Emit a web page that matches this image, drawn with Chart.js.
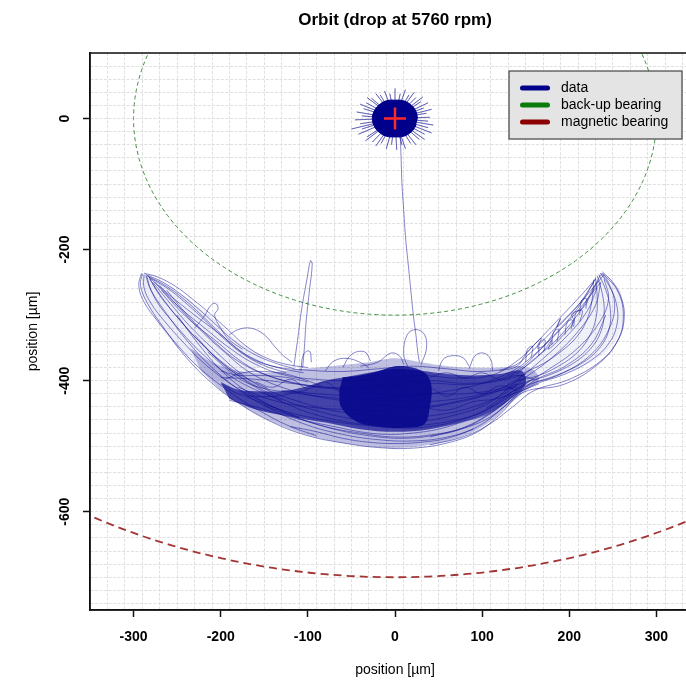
<!DOCTYPE html>
<html>
<head>
<meta charset="utf-8">
<title>Orbit (drop at 5760 rpm)</title>
<script src="https://cdn.jsdelivr.net/npm/chart.js@4.4.1/dist/chart.umd.min.js"></script>
<style>
  html, body { margin: 0; padding: 0; background: #fff; overflow: hidden; }
  #wrap { width: 686px; height: 681px; overflow: hidden; }
</style>
</head>
<body>
<div id="wrap"><canvas id="orbit" width="790" height="681"></canvas></div>
<script>
// axis ticks with labels (µm)
const xTickLabels = [-300, -200, -100, 0, 100, 200, 300];
const yTickLabels = [-600, -400, -200, 0];
const legendNames = ["data", "back-up bearing", "magnetic bearing"];

// bearing clearance circles, centred on the rotor centre
const bearingRadius = [300, 700];
const rotorCentre = [[0, 0]];

// rotor hovering before the drop
const hoverDisc = [[26,0],[24,11],[19,20],[10,27],[0,28],[-10,27],[-19,20],[-24,11],[-26,0],[-24,-11],[-19,-20],[-10,-27],[0,-28],[10,-27],[19,-20],[24,-11]];
const hoverTips = [[40,2],[36,8],[42,14],[33,16],[38,24],[30,26],[32,33],[24,32],[22,40],[16,36],[12,44],[6,38],[0,46],[-6,38],[-12,42],[-17,36],[-22,38],[-27,31],[-32,32],[-33,24],[-40,22],[-36,15],[-44,10],[-38,4],[-46,-2],[-40,-8],[-50,-16],[-38,-16],[-42,-24],[-32,-28],[-34,-34],[-26,-36],[-22,-42],[-16,-38],[-10,-46],[-4,-40],[2,-48],[8,-40],[12,-46],[18,-38],[24,-40],[28,-32],[34,-32],[34,-24],[42,-22],[38,-14],[44,-10],[38,-4]];
const dropPath = [[6,-26],[7,-60],[8,-100],[10,-140],[12,-180],[15,-220],[18,-260],[21,-300],[24,-330],[26,-355],[28,-372]];

// density of the whirl on the back-up bearing
const whirlHull = [[-235,-350],[-210,-372],[-180,-385],[-150,-388],[-120,-384],[-90,-380],[-60,-376],[-30,-372],[0,-366],[30,-372],[60,-378],[90,-380],[120,-380],[145,-378],[160,-385],[165,-400],[150,-415],[130,-438],[110,-462],[80,-484],[40,-498],[0,-503],[-40,-499],[-80,-490],[-120,-474],[-160,-450],[-195,-420],[-222,-386]];
const whirlBand = [[-200,-402],[-180,-414],[-160,-416],[-130,-416],[-105,-410],[-80,-400],[-55,-394],[-30,-388],[0,-382],[30,-385],[60,-390],[90,-392],[120,-390],[145,-385],[150,-405],[135,-425],[110,-448],[80,-462],[40,-474],[0,-478],[-40,-474],[-80,-464],[-120,-455],[-160,-444],[-190,-428]];
const whirlCore = [[-60,-395],[-40,-392],[-20,-386],[0,-378],[20,-380],[36,-390],[42,-410],[40,-440],[34,-466],[10,-472],[-20,-470],[-45,-462],[-62,-440],[-64,-415]];
const leftArm = [[-290,-236],[-260,-255],[-220,-292],[-180,-340],[-150,-370],[-200,-400],[-240,-362],[-270,-316],[-290,-270]];
const rightArm = [[238,-234],[258,-262],[262,-305],[250,-345],[225,-372],[180,-396],[150,-400],[160,-370],[200,-315],[225,-268]];

// whirl orbits: lower sweeps left tip -> right tip
const sweepA1 = [[-290,-237],[-292,-255],[-284,-282],[-265,-320],[-240,-364],[-210,-404],[-180,-434],[-140,-464],[-100,-484],[-60,-495],[-20,-502],[20,-503],[60,-495],[95,-478],[120,-452],[147,-418],[193,-406],[232,-376],[255,-340],[262,-300],[255,-262],[238,-236]];
const sweepA2 = [[-286,-240],[-280,-262],[-262,-298],[-238,-340],[-210,-380],[-178,-415],[-140,-445],[-100,-468],[-60,-482],[-20,-490],[20,-492],[60,-486],[95,-470],[125,-440],[150,-410],[190,-390],[225,-360],[246,-320],[252,-282],[244,-248],[236,-236]];
const sweepA3 = [[-282,-244],[-268,-272],[-248,-306],[-222,-344],[-192,-380],[-160,-410],[-120,-438],[-80,-456],[-40,-466],[0,-472],[40,-470],[80,-458],[110,-440],[140,-412],[175,-384],[210,-350],[235,-310],[245,-275],[240,-245]];
const sweepA4 = [[-278,-250],[-258,-282],[-236,-316],[-210,-350],[-180,-386],[-150,-412],[-110,-432],[-70,-446],[-30,-452],[10,-456],[50,-452],[90,-440],[125,-420],[150,-395],[180,-365],[210,-325],[230,-285],[236,-250]];
const sweepA5 = [[-270,-255],[-248,-288],[-224,-322],[-196,-356],[-166,-388],[-130,-410],[-90,-424],[-50,-432],[-10,-438],[30,-440],[70,-432],[110,-418],[140,-398],[165,-372],[195,-335],[220,-295],[232,-258]];
const sweepA6 = [[-262,-262],[-238,-300],[-208,-340],[-178,-372],[-140,-395],[-100,-408],[-60,-414],[-20,-420],[20,-422],[60,-416],[100,-404],[135,-385],[160,-360],[190,-320],[212,-285],[228,-250]];
const sweepA7 = [[-250,-300],[-225,-345],[-195,-390],[-160,-425],[-120,-452],[-80,-470],[-40,-480],[0,-486],[40,-483],[80,-472],[110,-455],[135,-428],[160,-400],[195,-378],[225,-345],[242,-300]];
const sweepA8 = [[-230,-330],[-200,-372],[-170,-400],[-130,-428],[-90,-446],[-50,-458],[-10,-464],[30,-462],[70,-452],[105,-436],[130,-412],[150,-388]];
// upper returns right tip -> left tip
const returnU1 = [[240,-238],[225,-262],[205,-292],[180,-325],[155,-358],[135,-378],[100,-386],[60,-382],[20,-378],[-20,-382],[-60,-386],[-100,-384],[-140,-378],[-170,-362],[-200,-330],[-230,-300],[-260,-268],[-284,-240]];
const returnU2 = [[230,-245],[210,-275],[185,-310],[160,-345],[140,-370],[110,-392],[70,-396],[30,-392],[-10,-396],[-50,-400],[-90,-398],[-125,-392],[-160,-375],[-190,-350],[-220,-318],[-250,-285],[-276,-250]];
const returnU3 = [[236,-250],[215,-285],[190,-322],[165,-355],[145,-380],[115,-400],[80,-406],[40,-404],[0,-408],[-40,-412],[-80,-410],[-120,-402],[-150,-390],[-175,-372],[-205,-340],[-240,-302],[-268,-262]];
const returnU4 = [[150,-395],[120,-412],[80,-420],[40,-420],[0,-424],[-40,-428],[-80,-425],[-120,-418],[-150,-412],[-175,-400],[-195,-380],[-215,-356]];
// body crossings
const bodyB1 = [[-180,-410],[-140,-430],[-100,-440],[-60,-444],[-20,-446],[20,-444],[60,-436],[100,-424],[140,-405]];
const bodyB2 = [[-170,-425],[-130,-445],[-90,-458],[-50,-466],[-10,-470],[30,-468],[70,-460],[100,-448],[130,-425],[155,-400]];
const bodyB3 = [[-150,-438],[-110,-458],[-70,-474],[-30,-484],[10,-488],[50,-482],[85,-468],[115,-445]];
const bodyB4 = [[-200,-395],[-160,-398],[-120,-404],[-80,-410],[-40,-410],[0,-404],[40,-400],[80,-404],[120,-400],[150,-390]];
const bodyB5 = [[-130,-415],[-90,-420],[-50,-424],[-10,-430],[30,-432],[70,-428],[110,-418],[140,-410]];
const bodyB6 = [[-160,-402],[-140,-410],[-120,-398],[-100,-412],[-80,-402],[-60,-418],[-40,-404],[-20,-420],[0,-410],[20,-426],[40,-412],[60,-424],[80,-410],[100,-420],[120,-408],[140,-415]];
const bodyB7 = [[-190,-430],[-160,-440],[-130,-452],[-100,-462],[-70,-470],[-40,-478],[-10,-482],[20,-480],[50,-474],[80,-462],[105,-452],[128,-432]];
const bodyB8 = [[-120,-470],[-90,-478],[-60,-488],[-30,-494],[0,-496],[30,-494],[60,-488],[90,-474]];
const bodyB9 = [[40,-395],[60,-388],[80,-396],[100,-388],[120,-398],[140,-392],[160,-398]];
const bodyB10 = [[30,-440],[60,-445],[90,-432],[115,-428],[140,-418],[165,-405]];
const eyeE1 = [[-200,-385],[-180,-392],[-160,-392],[-140,-393],[-120,-396],[-100,-402]];
const eyeE2 = [[-200,-405],[-180,-420],[-160,-424],[-140,-424],[-120,-420],[-100,-414]];
const eyeE3 = [[-195,-398],[-175,-388],[-150,-386],[-125,-390],[-105,-398],[-85,-408]];
// right arm
const rightR1 = [[238,-234],[250,-250],[260,-275],[263,-305],[256,-338],[236,-370],[200,-398],[160,-415],[135,-440],[110,-465],[80,-485],[40,-498]];
const rightR2 = [[236,-236],[246,-256],[254,-282],[255,-312],[246,-342],[226,-368],[195,-390],[160,-406],[135,-425],[110,-450],[80,-472],[40,-486]];
const rightR3 = [[234,-238],[242,-262],[247,-290],[246,-320],[236,-348],[216,-372],[185,-392],[155,-405],[130,-420],[105,-442]];
const rightR4 = [[232,-240],[238,-268],[240,-298],[236,-326],[224,-352],[204,-374],[176,-392],[150,-402],[125,-415]];
const rightR5 = [[230,-242],[232,-272],[231,-302],[224,-330],[210,-356],[190,-376],[165,-392],[140,-400]];
const rightR6 = [[228,-246],[226,-278],[220,-308],[208,-334],[190,-356],[170,-374],[148,-388]];
const rightR7 = [[120,-385],[140,-378],[150,-360],[160,-345],[168,-335],[163,-350],[172,-345],[185,-320],[190,-305],[186,-318],[200,-300],[212,-282],[222,-262],[230,-245]];
const rightR8 = [[130,-395],[148,-380],[160,-368],[172,-352],[180,-338],[176,-352],[192,-332],[205,-310],[203,-298],[215,-290],[225,-268],[233,-248]];
const rightR9 = [[140,-390],[155,-372],[168,-358],[182,-342],[196,-322],[208,-302],[218,-282],[228,-258],[236,-238]];
const hookH1 = [[150,-372],[152,-352],[158,-348],[156,-365]];
const hookH2 = [[165,-362],[166,-342],[172,-338],[171,-355]];
const hookH3 = [[180,-345],[182,-326],[188,-322],[186,-340]];
const hookH4 = [[195,-330],[198,-310],[204,-308],[202,-322]];
const hookH5 = [[205,-318],[208,-296],[215,-293],[212,-310]];
const hookH6 = [[212,-300],[214,-278],[220,-275],[219,-290]];
// left arm
const leftL1 = [[-291,-236],[-294,-255],[-288,-280],[-272,-310],[-252,-342],[-230,-374],[-205,-402],[-178,-428],[-150,-450],[-120,-470],[-90,-484]];
const leftL2 = [[-288,-238],[-288,-258],[-280,-282],[-264,-310],[-244,-340],[-222,-370],[-198,-396],[-170,-420],[-140,-440],[-110,-456]];
const leftL3 = [[-285,-240],[-280,-262],[-270,-286],[-254,-312],[-234,-342],[-212,-370],[-188,-394],[-160,-414],[-130,-430]];
const leftL4 = [[-282,-242],[-272,-266],[-258,-290],[-240,-318],[-220,-346],[-198,-372],[-174,-394],[-146,-412]];
const leftU1 = [[-288,-236],[-272,-242],[-252,-256],[-232,-276],[-212,-298],[-192,-322],[-172,-346],[-150,-364],[-125,-375],[-100,-380]];
const leftU2 = [[-286,-238],[-266,-250],[-246,-268],[-226,-290],[-206,-314],[-186,-338],[-164,-358],[-140,-372],[-115,-382]];
const leftU3 = [[-284,-240],[-262,-256],[-242,-276],[-222,-300],[-202,-326],[-182,-350],[-160,-368],[-135,-380],[-105,-388]];
const leftU4 = [[-280,-244],[-258,-262],[-238,-284],[-218,-308],[-198,-334],[-176,-358],[-152,-376],[-125,-388]];
// excursions above the whirl
const loopP1 = [[-230,-320],[-218,-300],[-212,-286],[-206,-282],[-203,-290],[-207,-300],[-200,-320],[-190,-338],[-175,-352]];
const loopP2 = [[-190,-330],[-180,-322],[-165,-320],[-150,-330],[-138,-348],[-128,-362],[-118,-372]];
const loopP3 = [[-116,-378],[-112,-340],[-107,-290],[-101,-245],[-97,-217],[-95,-222],[-98,-260],[-102,-310],[-104,-350],[-106,-380]];
const loopP4 = [[-108,-385],[-105,-360],[-98,-355],[-96,-372]];
const loopC1 = [[-80,-385],[-70,-370],[-55,-366],[-40,-372],[-30,-380]];
const loopC2 = [[-40,-378],[-20,-372],[-5,-358],[5,-362],[10,-375]];
const loopC3 = [[15,-380],[10,-360],[14,-330],[24,-322],[34,-330],[36,-352],[30,-375]];
const loopC4 = [[50,-385],[55,-368],[65,-362],[78,-365],[85,-378]];
const loopC5 = [[85,-382],[92,-362],[102,-358],[110,-368],[112,-385]];
const loopC6 = [[-60,-380],[-50,-360],[-35,-356],[-28,-370]];

const orbitStrands = [sweepA1, sweepA2, sweepA3, sweepA4, sweepA5, sweepA6, sweepA7, sweepA8,
  returnU1, returnU2, returnU3, returnU4,
  bodyB1, bodyB2, bodyB3, bodyB4, bodyB5, bodyB6, bodyB7, bodyB8, bodyB9, bodyB10, eyeE1, eyeE2, eyeE3,
  rightR1, rightR2, rightR3, rightR4, rightR5, rightR6, rightR7, rightR8, rightR9,
  hookH1, hookH2, hookH3, hookH4, hookH5, hookH6,
  leftL1, leftL2, leftL3, leftL4, leftU1, leftU2, leftU3, leftU4,
  loopP1, loopP2, loopP3, loopP4, loopC1, loopC2, loopC3, loopC4, loopC5, loopC6, dropPath];

const FONT = "'Liberation Sans', Arial, Helvetica, sans-serif";
const NAVY = "#00008b";
const STRAND = "rgba(10, 10, 145, 0.62)";
const GRID = "rgba(222, 222, 222, 0.95)";
const legendColors = [NAVY, "#0a7a0a", "#8b0000"];
const bearingStyles = [
  { color: "#3f8f3f", width: 1, dash: [4, 3] },
  { color: "#a33535", width: 1.8, dash: [8, 5] }
];

const xy = pts => pts.map(p => ({ x: p[0], y: p[1] }));
// spikes of the hover blob: centre -> tip -> centre
const spikePath = [];
hoverTips.forEach(t => { spikePath.push([0, 0], t); });
spikePath.push([0, 0]);

const datasets = [];
datasets.push({
  data: xy(rotorCentre), pointStyle: "cross", pointRadius: 11,
  borderColor: "#ff2a2a", borderWidth: 2.5, order: 0
});
datasets.push({
  data: xy(spikePath), showLine: true, pointRadius: 0, tension: 0,
  borderColor: "rgba(0, 0, 139, 0.55)", borderWidth: 0.7, order: 1
});
datasets.push({
  data: xy(hoverDisc), showLine: true, pointRadius: 0, tension: 0.4,
  borderColor: NAVY, borderWidth: 1, backgroundColor: NAVY, fill: "shape", order: 2
});
orbitStrands.forEach(s => datasets.push({
  data: xy(s), showLine: true, pointRadius: 0, tension: 0.4,
  borderColor: STRAND, borderWidth: 0.8, order: 3
}));
[[whirlCore, 0.8, 4], [whirlBand, 0.65, 5], [whirlHull, 0.25, 6], [leftArm, 0.07, 7], [rightArm, 0.06, 7]]
  .forEach(([poly, alpha, ord]) => datasets.push({
    data: xy(poly), showLine: true, pointRadius: 0, tension: 0.35,
    borderColor: "transparent", borderWidth: 0,
    backgroundColor: `rgba(0, 0, 139, ${alpha})`, fill: "shape", order: ord
  }));

// x grid sits on the odd tens, y grid on multiples of 20
const xStops = [];
for (let v = -340; v <= 340; v += 10) xStops.push(v);
const yStops = [];
for (let v = -740; v <= 100; v += 20) yStops.push(v);

const decor = {
  id: "decor",
  beforeDatasetsDraw(chart) {
    const { ctx, chartArea: a, scales: { x, y } } = chart;
    const cx = x.getPixelForValue(0), cy = y.getPixelForValue(0);
    ctx.save();
    ctx.beginPath();
    ctx.rect(a.left, a.top, a.width, a.height);
    ctx.clip();
    bearingRadius.forEach((r, i) => {
      const st = bearingStyles[i];
      const rx = x.getPixelForValue(r) - cx;
      const ry = y.getPixelForValue(-r) - cy;
      ctx.beginPath();
      ctx.ellipse(cx, cy, rx, ry, 0, 0, Math.PI * 2);
      ctx.strokeStyle = st.color;
      ctx.lineWidth = st.width;
      ctx.setLineDash(st.dash);
      ctx.stroke();
    });
    ctx.restore();
  },
  afterDraw(chart) {
    const { ctx, chartArea: a } = chart;
    ctx.save();
    // box round the plot
    ctx.strokeStyle = "#111";
    ctx.lineWidth = 1.5;
    ctx.strokeRect(a.left, a.top, a.width, a.height);
    // title
    ctx.fillStyle = "#000";
    ctx.font = `bold 17px ${FONT}`;
    ctx.textAlign = "center";
    ctx.textBaseline = "middle";
    ctx.fillText("Orbit (drop at 5760 rpm)", (a.left + a.right) / 2, 20);
    // legend
    const lx = a.right - 191, ly = a.top + 18, lw = 173, lh = 68;
    ctx.fillStyle = "#e4e4e4";
    ctx.fillRect(lx, ly, lw, lh);
    ctx.strokeStyle = "#444";
    ctx.lineWidth = 1.2;
    ctx.strokeRect(lx, ly, lw, lh);
    ctx.font = `14px ${FONT}`;
    ctx.textAlign = "left";
    legendNames.forEach((name, i) => {
      const yy = ly + 17 + i * 17;
      ctx.strokeStyle = legendColors[i];
      ctx.lineWidth = 5;
      ctx.lineCap = "round";
      ctx.beginPath();
      ctx.moveTo(lx + 13.5, yy);
      ctx.lineTo(lx + 38.5, yy);
      ctx.stroke();
      ctx.fillStyle = "#000";
      ctx.fillText(name, lx + 52, yy);
    });
    ctx.restore();
  }
};

new Chart(document.getElementById("orbit"), {
  type: "scatter",
  data: { datasets },
  plugins: [decor],
  options: {
    responsive: false,
    animation: false,
    events: [],
    layout: { padding: { top: 53, right: 90, left: 0, bottom: 0 } },
    scales: {
      x: {
        type: "linear", min: -350, max: 350, z: 1,
        afterBuildTicks: s => { s.ticks = xStops.map(v => ({ value: v })); },
        afterFit: s => { s.height = 71; },
        ticks: {
          autoSkip: false, maxRotation: 0, minRotation: 0, padding: 12,
          color: "#000", font: { family: FONT, size: 14, weight: "bold" },
          callback: v => xTickLabels.includes(v) ? String(v) : ""
        },
        grid: {
          color: c => (c.tick && Math.abs(c.tick.value) % 20 === 10) ? GRID : "transparent",
          lineWidth: 1, tickLength: 7, tickWidth: 1.5,
          tickColor: c => (c.tick && xTickLabels.includes(c.tick.value)) ? "#111" : "transparent"
        },
        border: { display: true, color: "#111", width: 1.5, dash: [3, 1.5] },
        title: {
          display: true, text: "position [µm]", color: "#000",
          font: { family: FONT, size: 14 }, padding: { top: 0, bottom: 2 }
        }
      },
      y: {
        type: "linear", min: -750, max: 100, z: 1,
        afterBuildTicks: s => { s.ticks = yStops.map(v => ({ value: v })); },
        afterFit: s => { s.width = 90; },
        ticks: {
          autoSkip: false, minRotation: 90, maxRotation: 90, padding: 4, crossAlign: "center",
          color: "#000", font: { family: FONT, size: 14, weight: "bold" },
          callback: v => yTickLabels.includes(v) ? String(v) : ""
        },
        grid: {
          color: GRID, lineWidth: 1, tickLength: 7, tickWidth: 1.5,
          tickColor: c => (c.tick && yTickLabels.includes(c.tick.value)) ? "#111" : "transparent"
        },
        border: { display: true, color: "#111", width: 1.5, dash: [3, 1.5] },
        title: {
          display: true, text: "position [µm]", color: "#000",
          font: { family: FONT, size: 14 }, padding: { top: 25, bottom: 0 }
        }
      }
    },
    plugins: {
      legend: { display: false },
      title: { display: false },
      tooltip: { enabled: false }
    }
  }
});
</script>
</body>
</html>
